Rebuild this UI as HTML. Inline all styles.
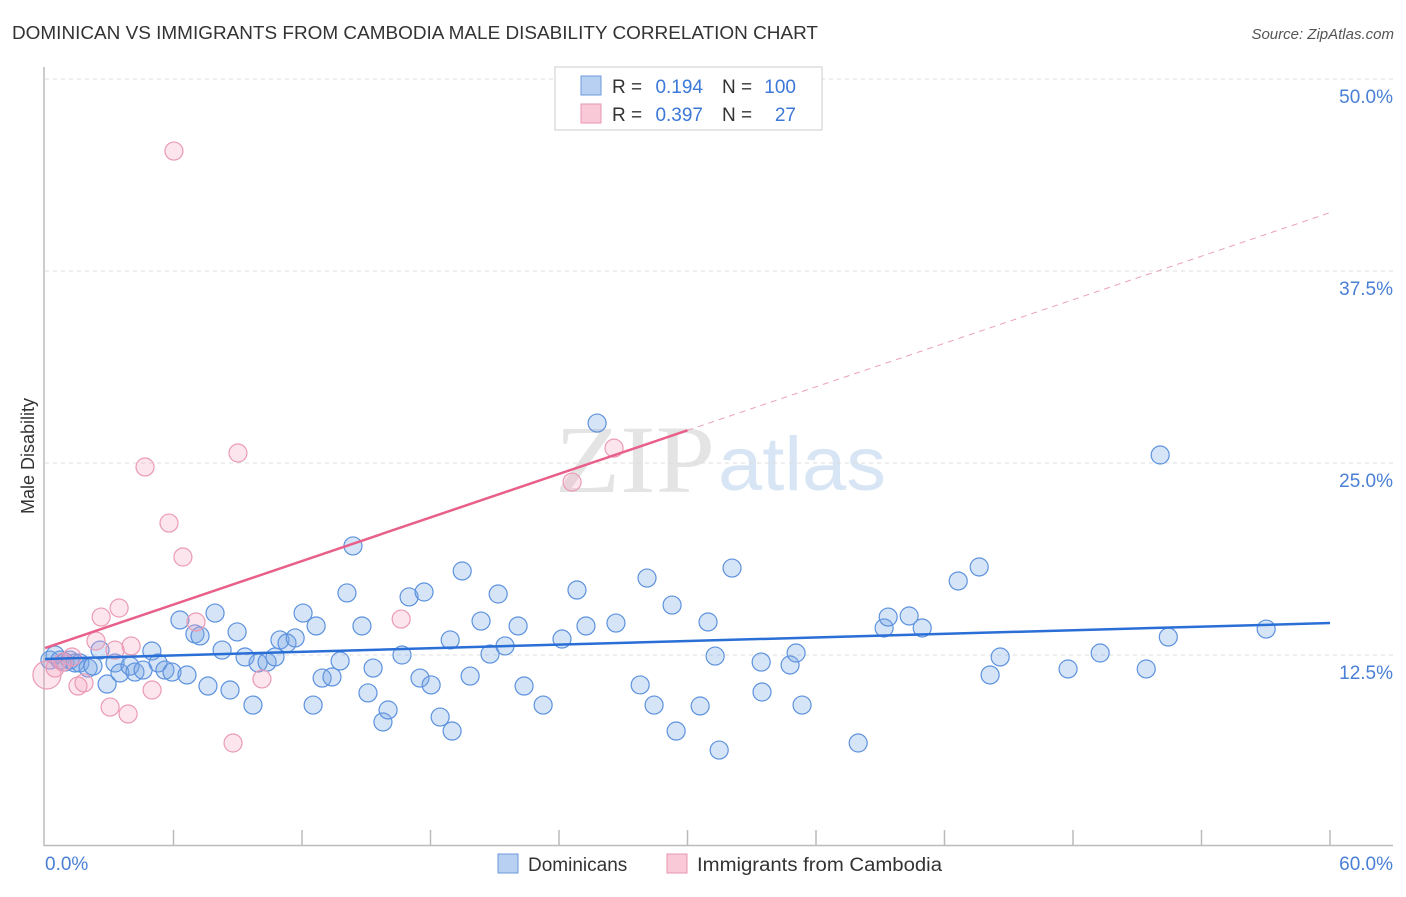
<!DOCTYPE html>
<html><head><meta charset="utf-8"><style>
body{margin:0;background:#fff;font-family:"Liberation Sans",sans-serif}
svg text{font-family:"Liberation Sans",sans-serif}
</style></head><body>
<svg id="chart" width="1406" height="892" viewBox="0 0 1406 892" xmlns="http://www.w3.org/2000/svg">
<text x="12" y="39" font-size="18.5" fill="#333" textLength="806" lengthAdjust="spacingAndGlyphs">DOMINICAN VS IMMIGRANTS FROM CAMBODIA MALE DISABILITY CORRELATION CHART</text>
<text x="1394" y="39" font-size="15" fill="#555" font-style="italic" text-anchor="end">Source: ZipAtlas.com</text>
<text x="555" y="492" font-size="96" fill="#e4e4e4" style="font-family:'Liberation Serif',serif" textLength="160" lengthAdjust="spacingAndGlyphs">ZIP</text>
<text x="718" y="490" font-size="76" fill="#d8e5f5" textLength="168" lengthAdjust="spacingAndGlyphs">atlas</text>
<g id="grid"></g>
<line x1="44" y1="67" x2="44" y2="846" stroke="#bbb" stroke-width="1.5"/>
<line x1="44" y1="845.5" x2="1393" y2="845.5" stroke="#bbb" stroke-width="1.5"/>
<text transform="translate(34,456) rotate(-90)" font-size="18" fill="#333" text-anchor="middle">Male Disability</text>
<text x="45" y="870" font-size="19" fill="#4a7fd6">0.0%</text>
<text x="1393" y="870" font-size="19" fill="#4a7fd6" text-anchor="end">60.0%</text>
<g id="marks"></g>
<g>
<rect x="555" y="67" width="267" height="63" fill="#fff" stroke="#ccc"/>
<rect x="581" y="76" width="20" height="19" fill="#b8d0f2" stroke="#6d9ade"/>
<rect x="581" y="104" width="20" height="19" fill="#f9c9d8" stroke="#e795b0"/>
<text x="612" y="93" font-size="19" fill="#333">R =</text>
<text x="703" y="93" font-size="19" fill="#3b78d8" text-anchor="end">0.194</text>
<text x="722" y="93" font-size="19" fill="#333">N =</text>
<text x="796" y="93" font-size="19" fill="#3b78d8" text-anchor="end">100</text>
<text x="612" y="121" font-size="19" fill="#333">R =</text>
<text x="703" y="121" font-size="19" fill="#3b78d8" text-anchor="end">0.397</text>
<text x="722" y="121" font-size="19" fill="#333">N =</text>
<text x="796" y="121" font-size="19" fill="#3b78d8" text-anchor="end">27</text>
</g>
<g>
<rect x="498" y="854" width="20" height="19" fill="#b8d0f2" stroke="#6d9ade"/>
<text x="528" y="871" font-size="19" fill="#333">Dominicans</text>
<rect x="667" y="854" width="20" height="19" fill="#f9c9d8" stroke="#e795b0"/>
<text x="697" y="871" font-size="19" fill="#333" textLength="245" lengthAdjust="spacingAndGlyphs">Immigrants from Cambodia</text>
</g>
</svg>
<script>
const yTicks=[12.5,25,37.5,50];
const yTickLabels=["12.5%","25.0%","37.5%","50.0%"];
const xTicks=[6,12,18,24,30,36,42,48,54,60];
const blueX=[0.23,0.47,0.70,0.93,1.17,1.40,1.63,2.01,2.24,2.57,2.90,3.27,3.50,3.97,4.20,4.58,4.99,5.28,5.60,5.93,6.30,6.63,7.00,7.24,7.61,7.94,8.27,8.64,8.97,9.34,9.71,9.95,10.37,10.74,10.97,11.30,11.68,12.05,12.52,12.66,12.94,13.40,13.78,14.10,14.38,14.80,15.08,15.32,15.78,16.02,16.67,17.00,17.51,17.70,18.03,18.45,18.92,19.01,19.48,19.85,20.36,20.78,21.16,21.48,22.09,22.37,23.26,24.14,24.84,25.26,25.78,26.66,27.79,28.11,28.44,29.28,29.47,30.59,30.96,31.29,31.48,32.08,33.44,33.48,34.79,35.07,35.35,37.97,39.18,39.37,40.35,40.96,42.64,43.62,44.13,44.60,47.77,49.27,51.42,52.07,52.45,57.02];
const blueY=[12.17,12.50,12.17,12.04,12.17,11.98,11.98,11.65,11.78,12.82,10.61,11.98,11.33,11.78,11.39,11.52,12.76,11.98,11.52,11.39,14.78,11.20,13.87,13.74,10.48,15.23,12.82,10.22,14.00,12.37,9.24,11.98,12.04,12.37,13.48,13.28,13.61,15.23,9.24,14.39,11.00,11.07,12.11,16.54,19.60,14.39,10.03,11.65,8.14,8.92,12.50,16.28,11.00,16.60,10.55,8.46,13.48,7.55,17.97,11.13,14.71,12.56,16.47,13.09,14.39,10.48,9.24,13.54,16.73,14.39,27.60,14.58,10.55,17.51,9.24,15.75,7.55,9.18,14.65,12.43,6.31,18.16,12.04,10.09,11.85,12.63,9.24,6.77,14.26,14.97,15.04,14.26,17.32,18.23,11.20,12.37,11.59,12.63,11.59,25.52,13.67,14.19];
const pinkX=[0.09,0.47,0.84,1.26,1.54,1.82,2.38,2.62,3.04,3.27,3.46,3.88,4.02,4.67,5.00,5.79,6.02,6.44,7.05,8.78,9.01,10.13,16.63,24.61,26.57];
const pinkY=[11.20,11.65,12.04,12.37,10.48,10.68,13.41,14.97,9.11,12.82,15.56,8.66,13.09,24.74,10.22,21.09,45.31,18.88,14.65,6.77,25.65,10.94,14.84,23.76,25.97];
const blueTrend=[12.24,14.58];
const pinkTrend=[12.95,41.3];
const pinkSolidEnd=30;
const NS="http://www.w3.org/2000/svg";
const sx=v=>45+v/60*1285;
const sy=v=>847-v/12.5*192;
const grid=document.getElementById('grid'),marks=document.getElementById('marks');
function mk(tag,attrs,parent){const e=document.createElementNS(NS,tag);for(const k in attrs)e.setAttribute(k,attrs[k]);parent.appendChild(e);return e;}
yTicks.forEach((t,i)=>{
 const l=mk('line',{x1:45,x2:1393,y1:sy(t),y2:sy(t),stroke:'#ddd','stroke-dasharray':'4,4'},grid);
 
 
 const tx=mk('text',{x:1393,y:sy(t)+24,'font-size':19,fill:'#4a7fd6','text-anchor':'end'},grid);
 tx.textContent=yTickLabels[i];
 
 
});
xTicks.forEach(t=>{
 const l=mk('line',{x1:sx(t),x2:sx(t),y1:830,y2:846,stroke:'#bbb','stroke-width':1.5},grid);
 
 
});
blueX.forEach((x,i)=>{
 const c=mk('circle',{cx:sx(x),cy:sy(blueY[i]),r:9,fill:'rgba(120,165,230,0.3)',stroke:'#5d92de','stroke-width':1.2},marks);
 
 
});
pinkX.forEach((x,i)=>{
 const c=mk('circle',{cx:sx(x),cy:sy(pinkY[i]),r:i==0?14:9,fill:'rgba(245,160,190,0.28)',stroke:'#eb9ab5','stroke-width':1.2},marks);
 
 
});
const pAt=x=>pinkTrend[0]+(pinkTrend[1]-pinkTrend[0])*x/60;
let l=mk('line',{x1:sx(0),y1:sy(pinkTrend[0]),x2:sx(pinkSolidEnd),y2:sy(pAt(pinkSolidEnd)),stroke:'#e8608a','stroke-width':2.5},marks);


l=mk('line',{x1:sx(pinkSolidEnd),y1:sy(pAt(pinkSolidEnd)),x2:sx(60),y2:sy(pinkTrend[1]),stroke:'#eba0b8','stroke-width':1,'stroke-dasharray':'6,5'},marks);


l=mk('line',{x1:sx(0),y1:sy(blueTrend[0]),x2:sx(60),y2:sy(blueTrend[1]),stroke:'#2a6fd6','stroke-width':2.5},marks);


</script>
</body></html>
